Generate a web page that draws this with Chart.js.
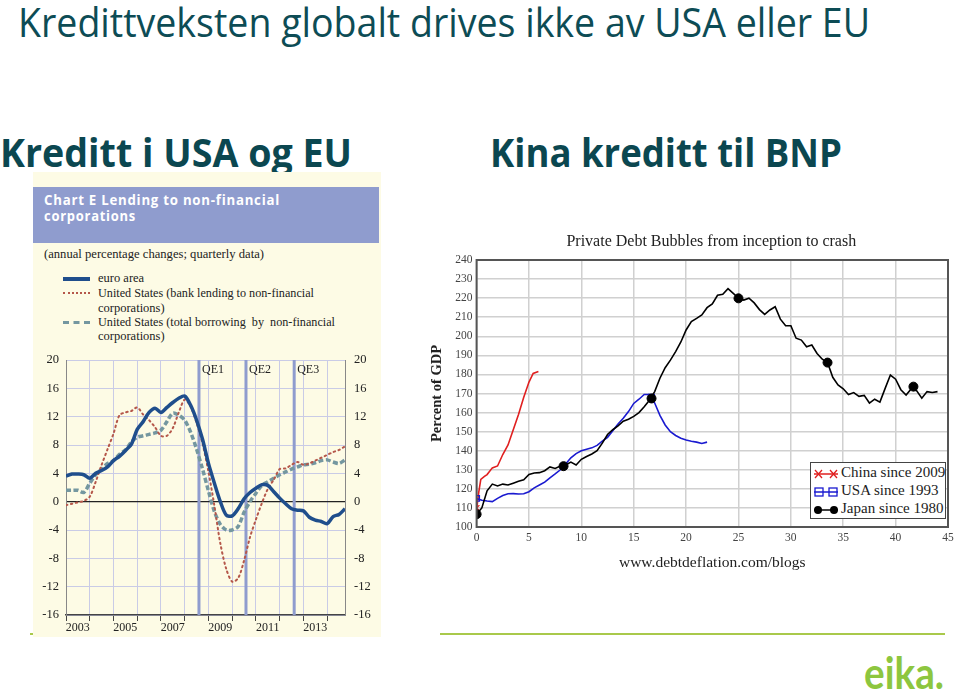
<!DOCTYPE html>
<html>
<head>
<meta charset="utf-8">
<script src="https://cdn.jsdelivr.net/npm/chart.js@4.4.1/dist/chart.umd.min.js"></script>
<style>
  html, body { margin: 0; padding: 0; }
  body { width: 960px; height: 698px; position: relative; overflow: hidden; background: #fff; }
  .abs { position: absolute; white-space: nowrap; }
  .fit { transform-origin: 0 0; display: inline-block; }
  #title { left: 18px; top: -6px; font: 40px "Open Sans", sans-serif; color: #0d4c55; }
  .sub { top: 124px; font: bold 40px "Open Sans", sans-serif; color: #0b4750; }
  #lpanel { left: 33px; top: 172px; width: 348px; height: 465px; background: #fdfbe5; }
  #band { position: absolute; left: 0; top: 15px; width: 346px; height: 56px; background: #8f9cce; }
  .bandtxt { left: 11px; font: bold 14px "Open Sans", sans-serif; color: #fff; letter-spacing: 0.8px; }
  .ser { font-family: "Liberation Serif", serif; color: #222; }
  .lg { position: absolute; left: 30px; width: 27px; }
  .lgt { left: 65px; font-size: 12.5px; }
  .gline { position: absolute; height: 2px; background: #a9c94b; }
  #rlegend { left: 810px; top: 462px; width: 134px; height: 55px; border: 1.5px solid #444; background: #fff; }
  #rlegend .row { position: absolute; left: 0; height: 18px; }
  #rlegend svg { position: absolute; left: 1px; top: 2px; }
  #rlegend span { position: absolute; left: 30px; top: -1px; font-size: 15px; }
  #logo { left: 864px; top: 646px; font: bold 44px "Lato", sans-serif; color: #8dc63f; }
</style>
</head>
<body>

<div id="title" class="abs"><span class="fit" data-w="852">Kredittveksten globalt drives ikke av USA eller EU</span></div>
<div class="abs sub" style="left:0px"><span class="fit" data-w="352">Kreditt i USA og EU</span></div>
<div class="abs sub" style="left:490px"><span class="fit" data-w="352">Kina kreditt til BNP</span></div>

<div class="gline" style="left:30px; top:633px; width:350px;"></div>
<div class="gline" style="left:440px; top:633px; width:505px;"></div>

<div id="lpanel" class="abs">
  <div id="band">
    <div class="abs bandtxt" style="top:3px"><span class="fit" data-w="236">Chart E Lending to non-financial</span></div>
    <div class="abs bandtxt" style="top:19px"><span class="fit" data-w="92">corporations</span></div>
  </div>
  <div class="abs ser" style="left:11px; top:75px; font-size:12.5px;"><span class="fit" data-w="220">(annual percentage changes; quarterly data)</span></div>

  <div class="lg" style="top:105px; height:4px; background:#1f4e8c;"></div>
  <div class="abs ser lgt" style="top:99px">euro area</div>
  <div class="lg" style="top:120px; border-top:2px dotted #b5574a;"></div>
  <div class="abs ser lgt" style="top:114px"><span class="fit" data-w="216">United States (bank lending to non-financial</span></div>
  <div class="abs ser lgt" style="top:129px">corporations)</div>
  <div class="lg" style="top:149px; border-top:3px dashed #7497a0;"></div>
  <div class="abs ser lgt" style="top:143px"><span class="fit" data-w="237">United States (total borrowing&nbsp; by&nbsp; non-financial</span></div>
  <div class="abs ser lgt" style="top:157px">corporations)</div>
</div>

<canvas id="lendChart" class="abs" width="348" height="287" style="left:33px; top:350px;"></canvas>
<canvas id="debtChart" class="abs" width="540" height="360" style="left:420px; top:225px;"></canvas>

<div id="rlegend" class="abs ser">
  <div class="row" style="top:2px">
    <svg width="28" height="14"><line x1="2" y1="7" x2="26" y2="7" stroke="#e02020" stroke-width="1.5"/>
      <path d="M3 3 L10 11 M10 3 L3 11 M18 3 L25 11 M25 3 L18 11" stroke="#e02020" stroke-width="1.3"/></svg>
    <span>China since 2009</span>
  </div>
  <div class="row" style="top:20px">
    <svg width="28" height="14"><line x1="2" y1="7" x2="26" y2="7" stroke="#1a1ad0" stroke-width="1.5"/>
      <rect x="3" y="3" width="8" height="8" fill="none" stroke="#1a1ad0" stroke-width="1.3"/>
      <rect x="17" y="3" width="8" height="8" fill="none" stroke="#1a1ad0" stroke-width="1.3"/></svg>
    <span>USA since 1993</span>
  </div>
  <div class="row" style="top:38px">
    <svg width="28" height="14"><line x1="2" y1="7" x2="26" y2="7" stroke="#000" stroke-width="1.5"/>
      <circle cx="6" cy="7" r="4" fill="#000"/><circle cx="22" cy="7" r="4" fill="#000"/></svg>
    <span>Japan since 1980</span>
  </div>
</div>

<div id="logo" class="abs"><span class="fit" data-w="80">eika.</span></div>

<script>
// ---- Lending to non-financial corporations (quarterly, from 2003 Q1) ----
const firstYear = 2003;
const quarterStep = 0.25;
const yearLabels = ['2003', '2005', '2007', '2009', '2011', '2013'];
const leftTicks = [20, 16, 12, 8, 4, 0, -4, -8, -12, -16];

const euroArea = [
    3.6, 3.9, 3.9, 3.8,   3.3, 4.0, 4.4, 4.9,   5.8, 6.4, 7.2, 8.1,
    10.2, 11.3, 12.6, 13.2,   12.6, 13.3, 14.0, 14.6,   14.9, 13.6, 11.5, 8.8,
    5.4, 2.6, 0.0, -1.9,   -2.0, -1.0, 0.4, 1.3,   1.9, 2.4, 2.3, 1.4,
    0.5, -0.3, -1.0, -1.2,   -1.3, -2.2, -2.6, -2.8,   -3.1, -2.1, -1.8, -1.0
];
const usBankLending = [
    -0.5, -0.3, -0.1, 0.1,   0.7, 2.8, 5.2, 7.4,   9.6, 12.2, 12.6, 12.8,
    13.3, 12.3, 11.5, 10.5,   9.3, 9.3, 10.4, 12.6,   14.4, 13.4, 11.1, 8.2,
    4.2, -0.6, -5.9, -9.5,   -11.3, -10.8, -8.3, -5.0,   -2.5, -0.2, 1.8, 3.1,
    4.6, 4.7, 5.2, 5.6,   5.2, 5.4, 5.8, 6.2,   6.6, 7.0, 7.3, 7.8
];
const usTotalBorrowing = [
    1.6, 1.6, 1.6, 1.3,   2.6, 3.8, 4.6, 5.4,   5.8, 6.7, 7.3, 8.4,
    9.1, 9.3, 9.5, 9.7,   10.1, 11.3, 12.5, 12.2,   11.5, 9.8, 7.4, 4.6,
    1.5, -1.4, -3.2, -4.0,   -4.0, -3.5, -1.5, 0.0,   1.2, 2.3, 2.8, 3.3,
    3.8, 4.2, 4.6, 4.9,   5.2, 5.3, 5.5, 5.8,   5.9, 5.6, 5.4, 5.9
];
const qeDates = [2008.60, 2010.58, 2012.61];
const qeLabels = ['QE1', 'QE2', 'QE3'];

// ---- Private debt bubbles (years since inception, % of GDP) ----
const halfYear = 0.5;
const chinaYears = [0, 0.2, 0.4, 0.75, 1.0, 1.5, 2.0, 2.5, 3.0, 3.5, 4.0, 4.5, 5.0, 5.4, 5.9];
const chinaDebt = [109, 118, 125, 126.5, 127.5, 131, 132, 138, 143, 151, 159, 168, 176, 180.5, 181.5];
const usaDebt = [
    115, 114, 113.6, 113.3, 115, 116.5, 117.4, 117.5, 117.3, 117.4,
    118.5, 120.5, 122, 123.5, 125.8, 127.8, 130, 133, 136.3, 138.5,
    140, 140.8, 141.5, 142.8, 145, 147, 150.5, 154, 157, 160.5,
    164.8, 167, 169.5, 169.5, 165, 158.5, 153.5, 150, 148, 146.5,
    145.6, 145, 144.5, 143.8, 144.5
];
const japanDebt = [
    106.7, 110, 119, 122.5, 121.5, 122.5, 122, 123, 124, 124.8,
    127.5, 128.3, 128.5, 129.5, 131.5, 130.7, 132, 132.5, 134, 132.5,
    135.5, 137, 138.3, 140, 144, 148.5, 151, 153, 155.5, 156.5,
    158, 160, 163, 166.5, 171, 178, 183.5, 187.5, 192, 197,
    203.3, 207.7, 209.4, 211.2, 215, 217, 221.5, 222, 225, 222.5,
    220, 219, 220, 217.5, 214, 211.5, 213.8, 215.5, 209, 205.5,
    205.5, 199, 198, 194.5, 195.4, 191, 188, 186.2, 178.5, 174.5,
    172.5, 169.5, 170.5, 168.5, 169, 165, 167, 165.5, 172.7, 179.7,
    177.5, 172, 169.2, 172.5, 171.5, 167.5, 171, 170.5, 171
];
const chinaMarkX = [0];
const chinaMarkY = [110];
const usaMarkX = [0, 8.3, 16.7];
const usaMarkY = [115, 131.8, 168];
const japanMarkX = [0, 8.3, 16.7, 25.0, 33.5, 41.7];
const japanMarkY = [106.7, 131.9, 167.4, 219.9, 186.2, 173.6];

// helpers
function stepPoints(values, start, step) {
    return values.map((v, i) => ({ x: start + i * step, y: v }));
}
function pairPoints(xs, ys) {
    return xs.map((x, i) => ({ x: x, y: ys[i] }));
}

// squeeze text spans to the widths in the slide
document.querySelectorAll('.fit').forEach(el => {
    const w = el.getBoundingClientRect().width;
    el.style.transform = 'scaleX(' + (Number(el.dataset.w) / w) + ')';
});

const serif = "'Liberation Serif', 'Times New Roman', serif";
Chart.defaults.animation = false;
Chart.defaults.font.family = serif;
Chart.defaults.color = '#222';

/**
 * QE markers and mid-year labels for the lending chart
 */
const lendingExtras = {
    id: 'lendingExtras',
    beforeDatasetsDraw(chart) {
        const { ctx, chartArea, scales } = chart;
        ctx.save();
        ctx.strokeStyle = '#8f9cce';
        ctx.lineWidth = 3;
        qeDates.forEach(d => {
            const x = scales.x.getPixelForValue(d);
            ctx.beginPath();
            ctx.moveTo(x, chartArea.top);
            ctx.lineTo(x, chartArea.bottom);
            ctx.stroke();
        });
        ctx.restore();
    },
    afterDraw(chart) {
        const { ctx, chartArea, scales } = chart;
        ctx.save();
        ctx.fillStyle = '#222';
        ctx.font = '12px ' + serif;
        ctx.textBaseline = 'middle';
        ctx.textAlign = 'left';
        qeDates.forEach((d, i) => {
            ctx.fillText(qeLabels[i], scales.x.getPixelForValue(d) + 3, chartArea.top + 10);
        });
        ctx.textAlign = 'center';
        yearLabels.forEach(y => {
            ctx.fillText(y, scales.x.getPixelForValue(Number(y) + 0.5), chartArea.bottom + 13);
        });
        ctx.restore();
    }
};

// fixed axis width, no extra label padding above/below the plot
function fixWidth(w) {
    return s => { s.width = w; s.paddingTop = 0; s.paddingBottom = 0; };
}

const gridColor = '#c9cbe6';
const yScaleBase = {
    min: -16,
    max: 20,
    afterBuildTicks: scale => { scale.ticks = leftTicks.map(v => ({ value: v })); },
    ticks: { font: { size: 12.5 }, color: '#222' },
    border: { color: '#888' }
};

new Chart(document.getElementById('lendChart'), {
    type: 'line',
    data: {
        datasets: [{
            label: 'euro area',
            data: stepPoints(euroArea, firstYear, quarterStep),
            borderColor: '#1f4e8c',
            borderWidth: 3.5,
            tension: 0.3,
            pointRadius: 0
        }, {
            label: 'United States (bank lending to non-financial corporations)',
            data: stepPoints(usBankLending, firstYear, quarterStep),
            borderColor: '#b5574a',
            borderWidth: 2,
            borderDash: [1.5, 3.5],
            borderCapStyle: 'round',
            tension: 0.3,
            pointRadius: 0
        }, {
            label: 'United States (total borrowing by non-financial corporations)',
            data: stepPoints(usTotalBorrowing, firstYear, quarterStep),
            borderColor: '#7497a0',
            borderWidth: 3.5,
            borderDash: [5, 2.5],
            tension: 0.3,
            pointRadius: 0
        }]
    },
    options: {
        responsive: false,
        layout: { padding: { top: 10, left: 0, right: 0, bottom: 0 } },
        plugins: { legend: { display: false }, tooltip: { enabled: false } },
        scales: {
            x: {
                type: 'linear',
                min: 2003,
                max: 2014.75,
                afterFit: s => { s.height = 22; s.paddingLeft = 0; s.paddingRight = 0; },
                afterBuildTicks: scale => {
                    const t = [];
                    for (let y = 2003; y <= 2014; y++) t.push({ value: y });
                    scale.ticks = t;
                },
                ticks: { callback: () => '' },
                grid: { color: gridColor, tickColor: '#444', tickLength: 6 },
                border: { color: '#444', width: 1.5 }
            },
            y: {
                ...yScaleBase,
                position: 'left',
                afterFit: fixWidth(33),
                ticks: { ...yScaleBase.ticks, padding: 7 },
                grid: {
                    drawTicks: false,
                    color: c => (c.tick && c.tick.value === 0 ? '#222' : gridColor),
                    lineWidth: c => (c.tick && c.tick.value === 0 ? 1.3 : 1)
                }
            },
            y2: {
                ...yScaleBase,
                position: 'right',
                afterFit: fixWidth(36),
                ticks: { ...yScaleBase.ticks, padding: 9 },
                grid: { display: false, drawTicks: false }
            }
        }
    },
    plugins: [lendingExtras]
});

/**
 * Box around plot and title for the debt chart
 */
const debtExtras = {
    id: 'debtExtras',
    afterDraw(chart) {
        const { ctx, chartArea } = chart;
        ctx.save();
        ctx.strokeStyle = '#555';
        ctx.lineWidth = 2;
        ctx.strokeRect(chartArea.left, chartArea.top, chartArea.right - chartArea.left, chartArea.bottom - chartArea.top);
        ctx.fillStyle = '#222';
        ctx.font = '16px ' + serif;
        ctx.textAlign = 'center';
        ctx.textBaseline = 'middle';
        ctx.fillText('Private Debt Bubbles from inception to crash', (chartArea.left + chartArea.right) / 2 - 1, 17);
        ctx.restore();
    }
};

const lineOpts = { borderWidth: 1.6, pointRadius: 0, tension: 0 };

new Chart(document.getElementById('debtChart'), {
    type: 'line',
    data: {
        datasets: [{
            label: 'Japan markers',
            data: pairPoints(japanMarkX, japanMarkY),
            showLine: false,
            pointRadius: 4.5,
            pointBackgroundColor: '#000',
            pointBorderColor: '#000'
        }, {
            label: 'Japan since 1980',
            data: stepPoints(japanDebt, 0, halfYear),
            borderColor: '#000',
            ...lineOpts
        }, {
            label: 'USA markers',
            data: pairPoints(usaMarkX, usaMarkY),
            showLine: false,
            pointStyle: 'rect',
            pointRadius: 4,
            pointBackgroundColor: 'rgba(0,0,0,0)',
            pointBorderColor: '#1a1ad0',
            pointBorderWidth: 1.3
        }, {
            label: 'USA since 1993',
            data: stepPoints(usaDebt, 0, halfYear),
            borderColor: '#1a1ad0',
            ...lineOpts
        }, {
            label: 'China markers',
            data: pairPoints(chinaMarkX, chinaMarkY),
            showLine: false,
            pointStyle: 'crossRot',
            pointRadius: 4,
            pointBorderColor: '#e02020',
            pointBorderWidth: 1.3
        }, {
            label: 'China since 2009',
            data: pairPoints(chinaYears, chinaDebt),
            borderColor: '#e02020',
            ...lineOpts
        }]
    },
    options: {
        responsive: false,
        layout: { padding: { top: 35, right: 12, left: 0, bottom: 0 } },
        plugins: { legend: { display: false }, tooltip: { enabled: false } },
        scales: {
            x: {
                type: 'linear',
                min: 0,
                max: 45,
                afterFit: s => { s.height = 58; },
                ticks: { stepSize: 5, padding: 4, font: { size: 11.5 }, color: '#444' },
                grid: { color: '#d0d0d0', lineWidth: 1.5, drawTicks: false },
                border: { display: false },
                title: {
                    display: true,
                    text: 'www.debtdeflation.com/blogs',
                    font: { size: 15.5 },
                    color: '#222',
                    padding: { top: 0, bottom: 13 }
                }
            },
            y: {
                min: 100,
                max: 240,
                afterFit: s => { s.width = 56.6; },
                ticks: { stepSize: 10, padding: 4, font: { size: 11.5 }, color: '#444' },
                grid: { color: '#d0d0d0', lineWidth: 1.5, drawTicks: false },
                border: { display: false },
                title: {
                    display: true,
                    text: 'Percent of GDP',
                    font: { size: 14.5, weight: 'bold' },
                    color: '#222',
                    padding: { top: 9, bottom: 0 }
                }
            }
        }
    },
    plugins: [debtExtras]
});
</script>
</body>
</html>
